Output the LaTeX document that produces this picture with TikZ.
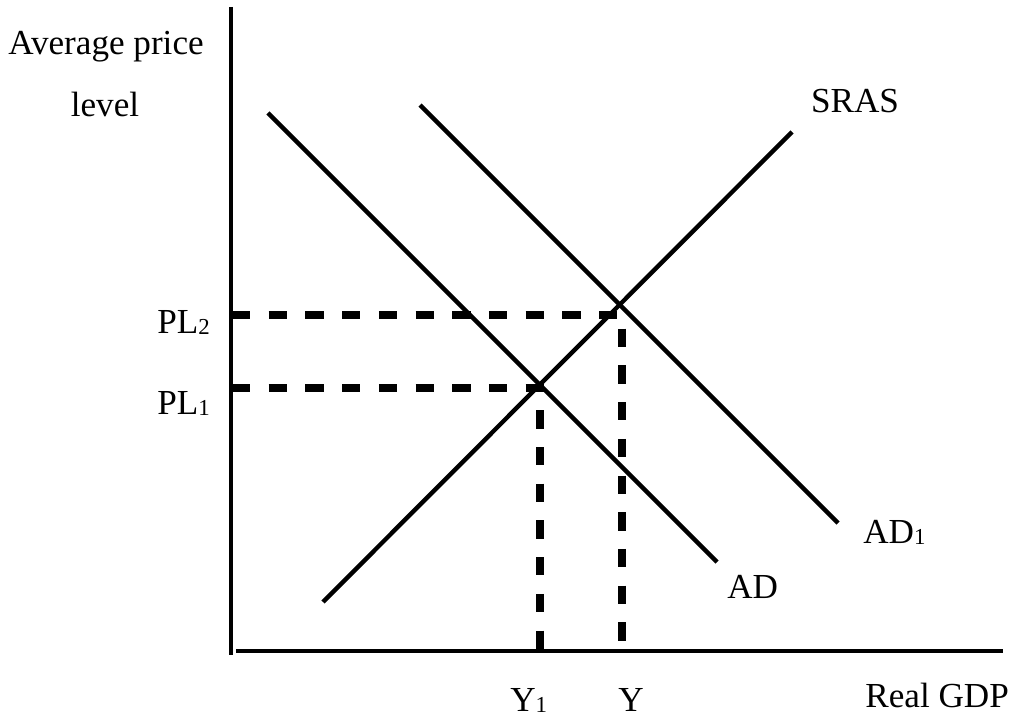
\documentclass[tikz,border=0pt]{standalone}
\usepackage{fontspec}
\setmainfont{Liberation Serif}
\usetikzlibrary{positioning}

% small digit set almost on the baseline
\newcommand{\lowdigit}[1]{\raisebox{-1pt}{\fontsize{13}{15}\selectfont #1}}

\tikzset{
  axisline/.style={line width=2.8pt},
  curve/.style={line width=2.5pt},
  guide/.style={line width=4.8pt, dash pattern=on 0.367cm off 0.367cm},
  lbl/.style={inner sep=0pt, font=\fontsize{20}{24}\selectfont},
}

\begin{document}
\begin{tikzpicture}
    \useasboundingbox (0,0) rectangle (20.48,14.42);

    % Axes
    \coordinate (origin) at (4.62,1.32);
    \coordinate (ytop) at (4.62,14.28);
    \coordinate (xstart) at (4.72,1.40);
    \coordinate (xend) at (20.06,1.40);
    \draw[axisline] (ytop) -- (origin);
    \draw[axisline] (xstart) -- (xend);

    % Supply and demand curves
    \coordinate (sraslo) at (6.46,2.38);
    \coordinate (srashi) at (15.84,11.78);
    \coordinate (adhi) at (5.36,12.16);
    \coordinate (adlo) at (14.34,3.18);
    \coordinate (adonehi) at (8.40,12.32);
    \coordinate (adonelo) at (16.76,3.96);
    \draw[curve] (sraslo) -- (srashi);
    \draw[curve] (adhi) -- (adlo);
    \draw[curve] (adonehi) -- (adonelo);

    % Dashed guide lines to the axes
    \coordinate (eqone) at (10.80,6.66);
    \coordinate (eqtwo) at (12.44,8.12);
    \draw[guide] (4.64,6.66) -- (eqone) -- (10.80,1.40);
    \draw[guide] (4.64,8.12) -- (eqtwo) -- (12.44,1.58);

    % Labels
    \node[lbl, anchor=base] (ytitle) at (2.12,13.32) {Average price};
    \node[lbl, anchor=base] (ytitletwo) at (2.10,12.08) {level};
    \node[lbl, anchor=base] (sras) at (17.10,12.16) {SRAS};
    \node[lbl, anchor=base west] (pltwo) at (3.14,7.76) {PL\lowdigit{2}};
    \node[lbl, anchor=base west] (plone) at (3.14,6.14) {PL\lowdigit{1}};
    \node[lbl, anchor=base west] (adone) at (17.26,3.56) {AD\lowdigit{1}};
    \node[lbl, anchor=base west] (ad) at (14.54,2.46) {AD};
    \node[lbl, anchor=base west] (yone) at (10.20,0.20) {Y\lowdigit{1}};
    \node[lbl, anchor=base] (yy) at (12.62,0.20) {Y};
    \node[lbl, anchor=base west] (xtitle) at (17.30,0.28) {Real GDP};

\end{tikzpicture}
\end{document}
